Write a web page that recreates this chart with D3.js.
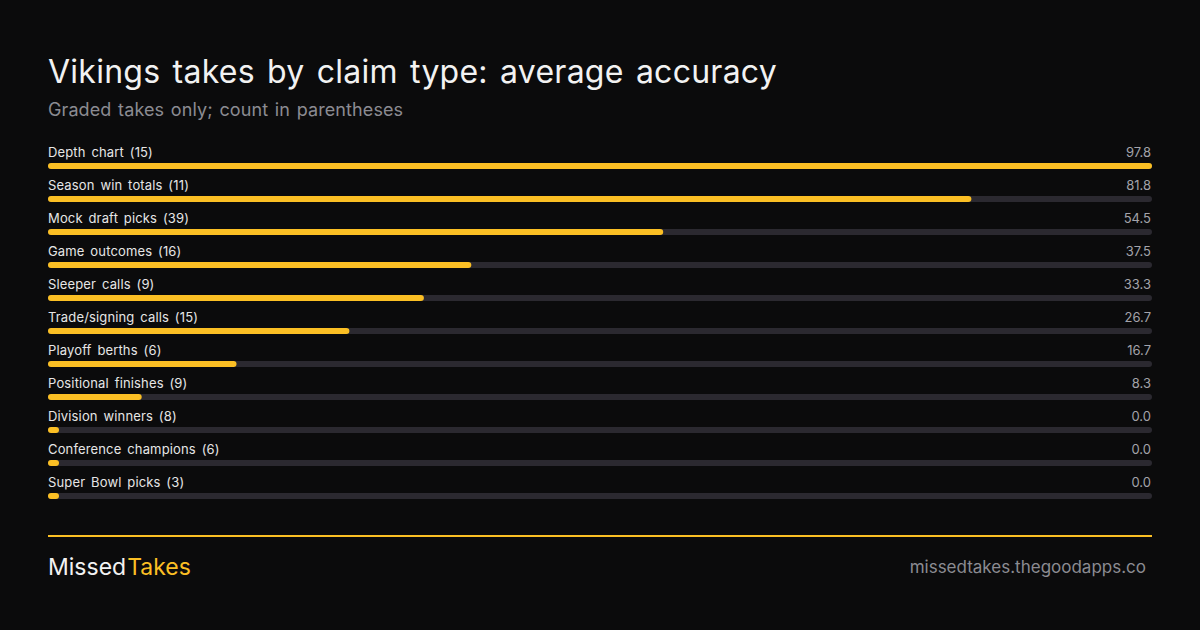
<!DOCTYPE html>
<html>
<head>
<meta charset="utf-8">
<script src="https://cdn.jsdelivr.net/npm/d3@7"></script>
<style>
  html, body { margin: 0; padding: 0; background: #0b0b0c; }
  svg { display: block; font-family: Inter, "Noto Sans", sans-serif; }
</style>
</head>
<body>
<div id="chart"></div>
<script>
// claim types, take counts and average accuracy
const categories = [
  "Depth chart", "Season win totals", "Mock draft picks", "Game outcomes",
  "Sleeper calls", "Trade/signing calls", "Playoff berths", "Positional finishes",
  "Division winners", "Conference champions", "Super Bowl picks"
];
const counts = [15, 11, 39, 16, 9, 15, 6, 9, 8, 6, 3];
const accuracy = [97.8, 81.8, 54.5, 37.5, 33.3, 26.7, 16.7, 8.3, 0.0, 0.0, 0.0];

const W = 1200, H = 630;
const left = 48, right = 1152;
const top0 = 141, rowH = 33;
const barH = 6;
const yellow = "#fbbf24";

const svg = d3.select("#chart")
  .append("svg")
  .attr("width", W)
  .attr("height", H);

svg.append("rect").attr("width", W).attr("height", H).attr("fill", "#0b0b0c");

// title
svg.append("text")
  .attr("x", left).attr("y", 83)
  .attr("fill", "#f2f2f2")
  .attr("font-size", 32)
  .attr("letter-spacing", 0.25)
  .attr("word-spacing", 3)
  .text("Vikings takes by claim type: average accuracy");

svg.append("text")
  .attr("x", left).attr("y", 116)
  .attr("fill", "#8b8b92")
  .attr("font-size", 18)
  .attr("letter-spacing", 0.1)
  .attr("word-spacing", 1.5)
  .text("Graded takes only; count in parentheses");

const rows = categories.map((c, i) => ({ name: c, n: counts[i], v: accuracy[i] }));

const x = d3.scaleLinear()
  .domain([0, d3.max(accuracy)])
  .range([0, right - left]);

const y = d3.scaleBand()
  .domain(categories)
  .range([top0, top0 + rowH * categories.length]);

const row = svg.selectAll("g.row")
  .data(rows)
  .enter()
  .append("g")
  .attr("class", "row")
  .attr("transform", d => "translate(" + left + "," + y(d.name) + ")");

row.append("text")
  .attr("x", 0).attr("y", 16)
  .attr("fill", "#e6e6e6")
  .attr("font-size", 13)
  .attr("letter-spacing", 0.15)
  .attr("word-spacing", 2)
  .text(d => d.name + " (" + d.n + ")");

row.append("text")
  .attr("x", right - left - 1).attr("y", 16)
  .attr("text-anchor", "end")
  .attr("fill", "#a3a3aa")
  .attr("font-size", 13)
  .text(d => d.v.toFixed(1));

// track
row.append("rect")
  .attr("x", 0).attr("y", 22)
  .attr("width", right - left)
  .attr("height", barH)
  .attr("rx", barH / 2)
  .attr("fill", "#2b2930");

// value bar (min width so zero still shows a pill)
row.append("rect")
  .attr("x", 0).attr("y", 22)
  .attr("width", d => Math.max(x(d.v), 11))
  .attr("height", barH)
  .attr("rx", barH / 2)
  .attr("fill", yellow);

// footer
svg.append("rect")
  .attr("x", left).attr("y", 535)
  .attr("width", right - left).attr("height", 2)
  .attr("fill", yellow);

const brand = svg.append("text")
  .attr("x", left).attr("y", 575)
  .attr("font-size", 23);
brand.append("tspan").attr("fill", "#f2f2f2").text("Missed");
brand.append("tspan").attr("fill", yellow).attr("dx", 1).text("Takes");

svg.append("text")
  .attr("x", 1146).attr("y", 573)
  .attr("text-anchor", "end")
  .attr("fill", "#8b8b92")
  .attr("font-size", 17)
  .text("missedtakes.thegoodapps.co");
</script>
</body>
</html>
